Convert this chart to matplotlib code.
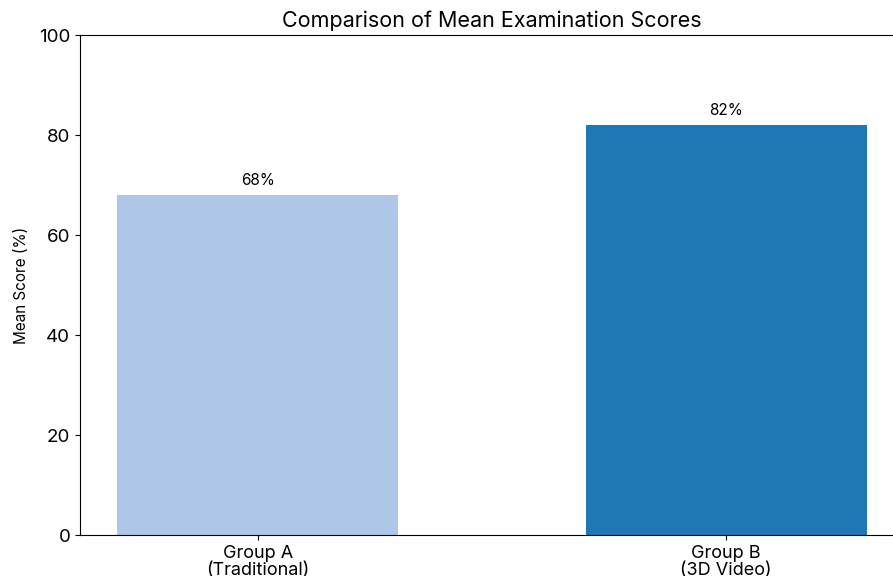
import matplotlib.pyplot as plt
import numpy as np

plt.rcParams['font.family'] = ['Inter', 'DejaVu Sans']

groups = ['Group A\n(Traditional)', 'Group B\n(3D Video)']
scores = [68, 82]
colors = ['#aec7e8', '#1f77b4']

fig = plt.figure(figsize=(8.93, 5.76), dpi=100)
# the original was cropped on the right, so the axes run past the figure edge
ax = fig.add_axes([80 / 893, 41 / 576, 824 / 893, 500 / 576])

x = np.arange(len(groups))
bars = ax.bar(x, scores, width=0.6, color=colors)

for b, s in zip(bars, scores):
    ax.annotate(f'{s}%', (b.get_x() + b.get_width() / 2, b.get_height()),
                xytext=(0, 5), textcoords='offset points',
                ha='center', va='bottom', fontsize=11)

ax.set_xticks(x)
ax.set_xticklabels(groups, fontsize=13, linespacing=1.0)
ax.set_ylim(0, 100)
ax.tick_params(axis='y', labelsize=13.5)
ax.set_ylabel('Mean Score (%)', fontsize=11, labelpad=7)
ax.set_title('Comparison of Mean Examination Scores', fontsize=15.5)

fig.savefig('out.png', dpi=100)
